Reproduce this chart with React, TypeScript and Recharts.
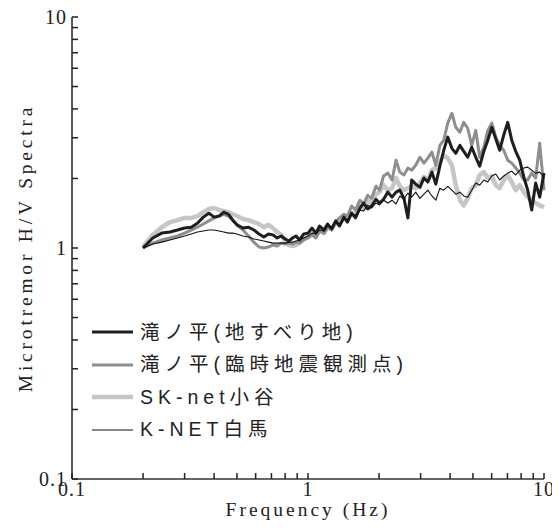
import React from 'react';
import { LineChart, Line, XAxis, YAxis, Label } from 'recharts';

// frequency (Hz)
const freqs = [
  0.2, 0.22, 0.24, 0.26, 0.28, 0.3, 0.32, 0.34, 0.36, 0.38,
  0.4, 0.42, 0.44, 0.46, 0.48, 0.5, 0.53, 0.56, 0.59, 0.62,
  0.65, 0.68, 0.71, 0.74, 0.77, 0.8, 0.83, 0.86, 0.89, 0.92, 0.96,
  1.0, 1.04, 1.08, 1.12, 1.17, 1.21, 1.26, 1.31, 1.36, 1.42,
  1.47, 1.53, 1.59, 1.66, 1.72, 1.79, 1.86, 1.94, 2.01, 2.09,
  2.18, 2.27, 2.36, 2.45, 2.55, 2.65, 2.75, 2.86, 2.98, 3.1,
  3.22, 3.35, 3.48, 3.62, 3.76, 3.91, 4.07, 4.23, 4.4, 4.57,
  4.75, 4.94, 5.14, 5.34, 5.56, 5.78, 6.01, 6.25, 6.49, 6.75,
  7.02, 7.3, 7.59, 7.89, 8.21, 8.53, 8.87, 9.22, 9.59, 10,
];

// 滝ノ平(地すべり地)
const takinotairaSlide = [
  1.0, 1.105, 1.16, 1.173, 1.196, 1.22, 1.23, 1.28, 1.36, 1.415,
  1.36, 1.375, 1.43, 1.4, 1.32, 1.26, 1.22, 1.23, 1.196, 1.15,
  1.116, 1.15, 1.14, 1.105, 1.127, 1.094, 1.072, 1.105, 1.127, 1.083, 1.15,
  1.16, 1.22, 1.16, 1.245, 1.196, 1.27, 1.21, 1.31, 1.245, 1.36,
  1.295, 1.415, 1.35, 1.49, 1.565, 1.475, 1.52, 1.625, 1.565, 1.625,
  1.745, 1.66, 1.745, 1.78, 1.64, 1.35, 1.97, 1.89, 1.83, 2.01,
  1.93, 2.13, 1.89, 2.26, 2.65, 3.02, 2.7, 2.57, 2.78, 2.62,
  2.47, 2.73, 2.47, 2.26, 2.62, 2.93, 3.33, 2.96, 2.65, 3.08,
  3.5, 2.93, 2.62, 2.4, 2.03, 1.78, 1.46, 1.91, 1.66, 2.11,
];

// 滝ノ平(臨時地震観測点)
const takinotairaTemp = [
  1.0, 1.05, 1.083, 1.105, 1.127, 1.16, 1.196, 1.23, 1.27, 1.31,
  1.35, 1.375, 1.4, 1.375, 1.32, 1.26, 1.196, 1.127, 1.06, 1.01,
  1.0, 1.01, 1.03, 1.02, 1.05, 1.04, 1.05, 1.04, 1.06, 1.05, 1.083,
  1.105, 1.14, 1.105, 1.185, 1.16, 1.23, 1.196, 1.295, 1.35, 1.4,
  1.375, 1.52, 1.46, 1.61, 1.55, 1.69, 1.64, 1.85, 1.78, 2.05,
  2.11, 1.97, 2.4, 2.13, 2.07, 2.22, 2.17, 2.28, 2.47, 2.33,
  2.45, 2.6, 2.28, 2.78, 2.93, 3.47, 3.83, 3.33, 3.17, 3.5,
  3.3, 2.78, 3.23, 2.47, 2.73, 3.23, 3.47, 3.02, 2.78, 2.65,
  2.4, 2.33, 2.22, 2.11, 1.97, 1.97, 2.11, 2.01, 2.84, 1.78,
];

// SK-net小谷
const skNetOtari = [
  1.01, 1.14, 1.23, 1.295, 1.32, 1.35, 1.35, 1.375, 1.43, 1.475,
  1.49, 1.46, 1.445, 1.43, 1.4, 1.375, 1.335, 1.32, 1.295, 1.27,
  1.23, 1.26, 1.22, 1.173, 1.14, 1.072, 1.03, 1.02, 1.03, 1.05, 1.094,
  1.116, 1.16, 1.127, 1.196, 1.16, 1.23, 1.21, 1.28, 1.27, 1.35,
  1.335, 1.415, 1.4, 1.52, 1.49, 1.61, 1.565, 1.71, 1.745, 1.87,
  1.78, 1.815, 2.01, 1.85, 1.78, 1.815, 1.85, 1.815, 1.91, 2.03,
  1.97, 2.17, 2.22, 2.35, 2.52, 2.45, 2.28, 1.87, 1.61, 1.53,
  1.64, 1.815, 1.87, 2.07, 2.13, 2.01, 2.05, 1.87, 1.815, 1.97,
  2.07, 1.93, 1.78, 1.87, 1.745, 1.66, 1.61, 1.565, 1.53, 1.5,
];

// K-NET白馬
const kNetHakuba = [
  1.0, 1.04, 1.06, 1.083, 1.105, 1.127, 1.15, 1.173, 1.185, 1.196,
  1.196, 1.185, 1.173, 1.16, 1.16, 1.15, 1.127, 1.116, 1.094, 1.083,
  1.072, 1.06, 1.05, 1.05, 1.05, 1.05, 1.06, 1.06, 1.072, 1.083, 1.105,
  1.127, 1.16, 1.15, 1.196, 1.185, 1.245, 1.22, 1.295, 1.27, 1.335,
  1.32, 1.4, 1.39, 1.46, 1.445, 1.535, 1.49, 1.565, 1.535, 1.61,
  1.565, 1.61, 1.55, 1.68, 1.625, 1.73, 1.66, 1.745, 1.64, 1.71,
  1.78, 1.68, 1.61, 1.815, 1.78, 1.85, 1.78, 1.71, 1.745, 1.68,
  1.66, 1.78, 1.91, 1.87, 1.97, 1.93, 2.05, 2.09, 1.97, 2.05,
  2.11, 2.15, 2.07, 2.17, 2.22, 2.24, 2.17, 2.11, 2.13, 2.03,
];

const logTicks = [
  0.1, 0.2, 0.3, 0.4, 0.5, 0.6, 0.7, 0.8, 0.9,
  1, 2, 3, 4, 5, 6, 7, 8, 9, 10,
];
const labeledTicks = [0.1, 1, 10];

const seriesNames = [
  '滝ノ平(地すべり地)',
  '滝ノ平(臨時地震観測点)',
  'SK-net小谷',
  'K-NET白馬',
];

const rows = freqs.map((f, i) => ({
  f,
  s0: takinotairaSlide[i],
  s1: takinotairaTemp[i],
  s2: skNetOtari[i],
  s3: kNetHakuba[i],
}));

const styles = [
  { key: 's0', color: '#1e1e1e', width: 3 },
  { key: 's1', color: '#8e8e8e', width: 3 },
  { key: 's2', color: '#c6c6c6', width: 4.5 },
  { key: 's3', color: '#111111', width: 1.1 },
];

const serif = '"Liberation Serif", "Times New Roman", serif';
const sans = '"Liberation Sans", "Noto Sans CJK JP", sans-serif';

const isLabeled = (v: number) => labeledTicks.some((m) => Math.abs(m - v) < 1e-9);

const YTick = (props: any) => {
  const { x, y, payload } = props;
  const v = payload.value;
  return (
    <g>
      <line x1={x} x2={x + 6} y1={y} y2={y} stroke="#222" strokeWidth={1.5} />
      {isLabeled(v) && (
        <text x={x - 5} y={y} dy="0.36em" textAnchor="end" fontFamily={serif} fontSize={20} letterSpacing={1} fill="#222">
          {String(v)}
        </text>
      )}
    </g>
  );
};

const XTick = (props: any) => {
  const { x, y, payload } = props;
  const v = payload.value;
  return (
    <g>
      <line x1={x} x2={x} y1={y} y2={y - 6} stroke="#222" strokeWidth={1.5} />
      {isLabeled(v) && (
        <text x={x} y={y + 17} textAnchor="middle" fontFamily={serif} fontSize={20} letterSpacing={1} fill="#222">
          {String(v)}
        </text>
      )}
    </g>
  );
};

const LegendBox = () => (
  <div
    style={{
      position: 'absolute',
      left: 84,
      top: 316,
      fontFamily: sans,
      fontSize: 19.5,
      letterSpacing: 5,
      color: '#222',
      lineHeight: 1,
    }}
  >
    {seriesNames.map((name, i) => (
      <div key={name} style={{ display: 'flex', alignItems: 'center', height: 32.5, whiteSpace: 'nowrap' }}>
        <svg width={42} height={10} style={{ display: 'block' }}>
          <line x1={0} x2={41} y1={5} y2={5} stroke={styles[i].color} strokeWidth={Math.max(styles[i].width, 1.2)} />
        </svg>
        <span style={{ marginLeft: 6 }}>{name}</span>
      </div>
    ))}
  </div>
);

export default function App() {
  return (
    <div style={{ position: 'relative', width: 552, height: 522, marginTop: -8 }}>
      <LineChart width={552} height={522} data={rows} margin={{ top: 17, right: 16, left: 0, bottom: 0 }}>
        <XAxis
          dataKey="f"
          type="number"
          scale="log"
          domain={[0.1, 10]}
          ticks={logTicks}
          interval={0}
          tickSize={0}
          tickMargin={0}
          height={43}
          tick={<XTick />}
          tickLine={false}
          axisLine={{ stroke: '#666', strokeWidth: 2 }}
        >
          <Label
            content={({ viewBox }: any) => (
              <text
                x={viewBox.x + viewBox.width / 2}
                y={viewBox.y + viewBox.height - 6}
                textAnchor="middle"
                fontFamily={serif}
                fontSize={19.5}
                letterSpacing={3}
                fill="#222"
              >
                Frequency (Hz)
              </text>
            )}
          />
        </XAxis>
        <YAxis
          type="number"
          scale="log"
          domain={[0.1, 10]}
          ticks={logTicks}
          interval={0}
          tickSize={0}
          tickMargin={0}
          width={64}
          tick={<YTick />}
          tickLine={false}
          axisLine={{ stroke: '#222', strokeWidth: 1.5 }}
        >
          <Label
            content={({ viewBox }: any) => {
              const cx = viewBox.x + 17;
              const cy = viewBox.y + viewBox.height / 2;
              return (
                <text
                  x={cx}
                  y={cy}
                  dy="0.35em"
                  transform={`rotate(-90, ${cx}, ${cy})`}
                  textAnchor="middle"
                  fontFamily={serif}
                  fontSize={19.5}
                  letterSpacing={3.8}
                  fill="#222"
                >
                  Microtremor H/V Spectra
                </text>
              );
            }}
          />
        </YAxis>
        {[2, 1, 0, 3].map((i) => (
          <Line
            key={styles[i].key}
            dataKey={styles[i].key}
            name={seriesNames[i]}
            type="linear"
            dot={false}
            activeDot={false}
            stroke={styles[i].color}
            strokeWidth={styles[i].width}
            strokeLinejoin="round"
            isAnimationActive={false}
          />
        ))}
      </LineChart>
      <LegendBox />
    </div>
  );
}
